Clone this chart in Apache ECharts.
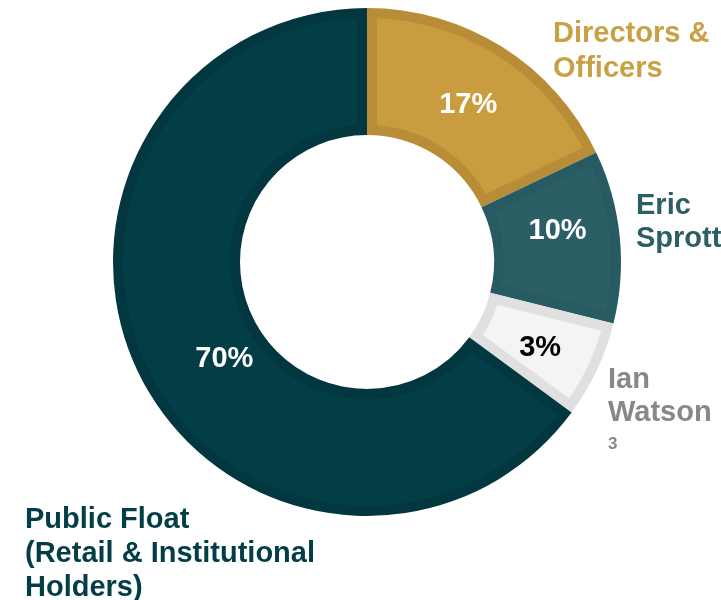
<!DOCTYPE html>
<html>
<head>
<meta charset="utf-8">
<script src="https://cdn.jsdelivr.net/npm/echarts@6/dist/echarts.min.js"></script>
<style>html,body{margin:0;padding:0;background:#fff;}#c{width:721px;height:600px;}</style>
</head>
<body>
<div id="c"></div>
<script>
// Slice shares as drawn in the picture (angles measured), and the printed labels
const categories = ['Directors & Officers', 'Eric Sprott', 'Ian Watson', 'Public Float (Retail & Institutional Holders)'];
const shares = [17.9, 11.0, 6.2, 64.9];
const pctLabels = ['17%', '10%', '3%', '70%'];
const nameLines = [['Directors &', 'Officers'], ['Eric', 'Sprott'], ['Ian', 'Watson'], ['Public Float', '(Retail & Institutional', 'Holders)']];
const footnote = '3';

const fills = ['#c99c3f', '#2c5e66', '#f4f4f4', '#033e47'];
const borders = ['#b98d38', '#285a61', '#e0e0e0', '#02373f'];
const pctColors = ['#ffffff', '#ffffff', '#000000', '#ffffff'];
const nameColors = ['#c9a043', '#2c5e65', '#888888', '#033e47'];
const pctOffsets = [[-2, 7], [-2, -12], [-2, 4], [30, 10]];
const namePos = [[553, 32], [636, 204], [608, 378], [25, 518]];
const lineGap = [35, 33, 33, 34];

const CX = 367, CY = 262, R0 = 127, R1 = 254, BW = 10;
const FONT = '"Liberation Sans", Arial, sans-serif';
const chart = echarts.init(document.getElementById('c'), null, {renderer: 'canvas'});
const total = shares.reduce((a, b) => a + b, 0);

// Border layer: full annular slices in the darker tone
const borderData = categories.map((c, i) => ({
  name: c, value: shares[i],
  itemStyle: {color: borders[i], borderWidth: 0}
}));

// Label layer: transparent slices carrying the percentage labels
const labelData = categories.map((c, i) => ({
  name: c, value: shares[i],
  itemStyle: {color: 'rgba(0,0,0,0)', borderWidth: 0},
  label: {
    show: true, position: 'inside', formatter: pctLabels[i], color: pctColors[i],
    fontSize: 29, fontWeight: 'bold', fontFamily: FONT, offset: pctOffsets[i]
  }
}));

// Fill layer: each slice shrunk by a constant-width band (inner stroke look)
function renderFill(params, api) {
  const i = params.dataIndex;
  let cum = 0;
  for (let k = 0; k < i; k++) cum += shares[k];
  const a0 = -Math.PI / 2 + 2 * Math.PI * cum / total;
  const a1 = a0 + 2 * Math.PI * api.value(0) / total;
  const ri = R0 + BW, ro = R1 - BW;
  const pts = [];
  const steps = 80;
  const dO = Math.asin(BW / ro), dI = Math.asin(BW / ri);
  for (let s = 0; s <= steps; s++) {
    const a = (a0 + dO) + (a1 - dO - a0 - dO) * s / steps;
    pts.push([CX + ro * Math.cos(a), CY + ro * Math.sin(a)]);
  }
  for (let s = 0; s <= steps; s++) {
    const a = (a1 - dI) - (a1 - dI - a0 - dI) * s / steps;
    pts.push([CX + ri * Math.cos(a), CY + ri * Math.sin(a)]);
  }
  return {type: 'polygon', shape: {points: pts}, style: {fill: fills[i], stroke: null}};
}

const graphics = [];
nameLines.forEach((lines, i) => {
  lines.forEach((t, j) => {
    graphics.push({
      type: 'text', left: namePos[i][0], top: namePos[i][1] + j * lineGap[i] - 13,
      style: {text: t, fill: nameColors[i], font: 'bold 29px ' + FONT}
    });
  });
});
graphics.push({
  type: 'text', left: 608, top: 436,
  style: {text: footnote, fill: '#888888', font: 'bold 17px ' + FONT}
});

chart.setOption({
  animation: false,
  backgroundColor: '#ffffff',
  series: [
    {
      type: 'pie', z: 1, center: [CX, CY], radius: [R0, R1], startAngle: 90, clockwise: true,
      label: {show: false}, labelLine: {show: false}, emphasis: {disabled: true}, silent: true,
      data: borderData
    },
    {
      type: 'custom', z: 2, coordinateSystem: 'none', silent: true,
      renderItem: renderFill,
      data: shares.map(v => [v])
    },
    {
      type: 'pie', z: 3, center: [CX, CY], radius: [R0, R1], startAngle: 90, clockwise: true,
      avoidLabelOverlap: false, labelLine: {show: false}, emphasis: {disabled: true}, silent: true,
      data: labelData
    }
  ],
  graphic: graphics
});
</script>
</body>
</html>
